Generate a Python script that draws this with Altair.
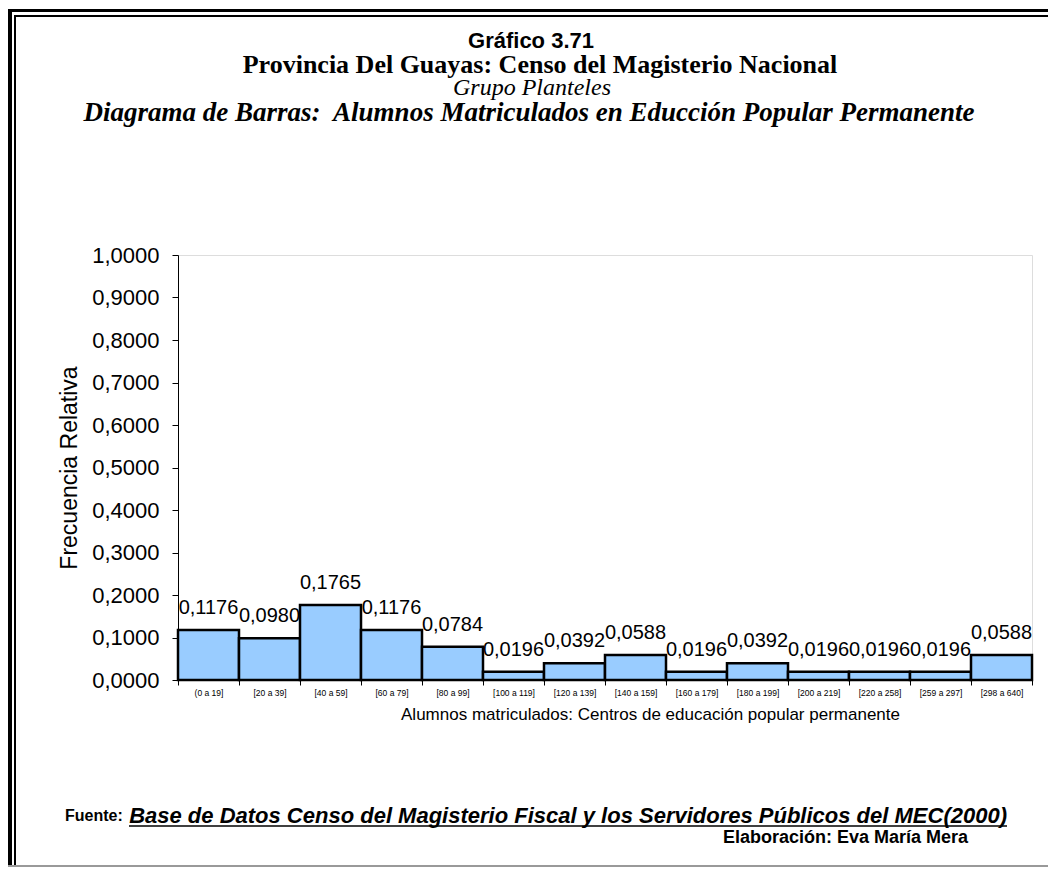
import altair as alt
import pandas as pd

categories = ["(0 a 19]", "[20 a 39]", "[40 a 59]", "[60 a 79]", "[80 a 99]",
              "[100 a 119]", "[120 a 139]", "[140 a 159]", "[160 a 179]",
              "[180 a 199]", "[200 a 219]", "[220 a 258]", "[259 a 297]", "[298 a 640]"]
values = [0.1176, 0.0980, 0.1765, 0.1176, 0.0784, 0.0196, 0.0392, 0.0588,
          0.0196, 0.0392, 0.0196, 0.0196, 0.0196, 0.0588]
y_ticks = [0.0, 0.1, 0.2, 0.3, 0.4, 0.5, 0.6, 0.7, 0.8, 0.9, 1.0]

title_lines = ["Gráfico 3.71",
               "Provincia Del Guayas: Censo del Magisterio Nacional",
               "Grupo Planteles",
               "Diagrama de Barras:\u00a0 Alumnos Matriculados en Educción Popular Permanente"]
x_title = "Alumnos matriculados: Centros de educación popular permanente"
y_title = "Frecuencia Relativa"
source_label = "Fuente:"
source_text = "Base de Datos Censo del Magisterio Fiscal y los Servidores Públicos del MEC(2000)"
author_text = "Elaboración: Eva María Mera"

W, H = 854, 425
PL, PT = 170, 247

df = pd.DataFrame({"cat": categories, "val": values})
one = pd.DataFrame({"a": [0]})

base = alt.Chart(df)

bars = base.mark_bar(fill="#99CCFF", stroke="black", strokeWidth=2.5).encode(
    x=alt.X("cat:N", sort=categories, title=x_title,
            scale=alt.Scale(paddingInner=0, paddingOuter=0),
            axis=alt.Axis(labelAngle=0, labelFontSize=8.5, labelFont="Liberation Sans",
                          labelColor="black", tickBand="extent", tickSize=5,
                          tickColor="black", domainColor="black", labelPadding=3,
                          titleFont="Liberation Sans", titleFontSize=17,
                          titleFontWeight="normal", titleColor="black", titlePadding=10,
                          titleX=472, titleAlign="center")),
    y=alt.Y("val:Q", title=y_title,
            scale=alt.Scale(domain=[0, 1], nice=False),
            axis=alt.Axis(values=y_ticks, grid=False,
                          labelExpr="replace(format(datum.value, '.4f'), '.', ',')",
                          labelFont="Liberation Sans", labelFontSize=22, labelColor="black",
                          labelPadding=13, tickSize=6, tickColor="black", domainColor="black",
                          titleFont="Liberation Sans", titleFontSize=23,
                          titleFontWeight="normal", titleColor="black", titlePadding=10)),
)

labels = base.transform_calculate(
    lab="replace(format(datum.val, '.4f'), '.', ',')"
).mark_text(font="Liberation Sans", fontSize=20, color="black",
            baseline="alphabetic", dy=-16).encode(
    x=alt.X("cat:N", sort=categories),
    y="val:Q",
    text="lab:N",
)

def txt(s, x, y, **kw):
    return alt.Chart(one).mark_text(text=s, color="black", baseline="middle", **kw).encode(
        x=alt.value(x), y=alt.value(y))

cx = 530 - 178
titles = [
    txt(title_lines[0], cx + 1, 41 - 255, font="Liberation Sans", fontSize=22, fontWeight="bold", align="center"),
    txt(title_lines[1], cx + 10, 65 - 255, font="Liberation Serif", fontSize=26, fontWeight="bold", align="center"),
    txt(title_lines[2], cx + 2, 88 - 255, font="Liberation Serif", fontSize=24, fontStyle="italic", align="center"),
    txt(title_lines[3], cx - 1, 113 - 255, font="Liberation Serif", fontSize=27, fontWeight="bold", fontStyle="italic", align="center"),
]

foot_y = 816 - 255
footer = [
    txt(source_label, 65 - 178, foot_y, font="Liberation Sans", fontSize=16, fontWeight="bold", align="left"),
    txt(source_text, 1007 - 178, foot_y, font="Liberation Sans", fontSize=22, fontWeight="bold", fontStyle="italic", align="right"),
    txt(author_text, 968 - 178, 838 - 255, font="Liberation Sans", fontSize=18, fontWeight="bold", align="right"),
]

underline = alt.Chart(one).mark_rule(color="black", strokeWidth=1.5).encode(
    x=alt.value(129 - 178), x2=alt.value(1007 - 178), y=alt.value(foot_y + 10))

def rect(x, x2, y, y2, color):
    return alt.Chart(one).mark_rect(color=color).encode(
        x=alt.value(x), x2=alt.value(x2), y=alt.value(y), y2=alt.value(y2))

frame = [
    rect(-170, -166, -246, 630, "black"),
    rect(-170, 900, -246, -243, "black"),
    rect(-164, -162, -240, 630, "black"),
    rect(-164, 900, -240, -238, "black"),
    rect(-170, 900, 610, 612, "#999999"),
]

chart = alt.layer(*frame, bars, labels, *titles, underline, *footer).properties(
    width=W, height=H,
    autosize=alt.AutoSizeParams(type="none"),
    padding={"left": PL, "top": PT, "right": 16, "bottom": 859 - PT - H},
).configure_view(stroke="black", strokeWidth=1).configure(background="white")

chart.save("out.html", embed_options={"renderer": "svg", "actions": False})
